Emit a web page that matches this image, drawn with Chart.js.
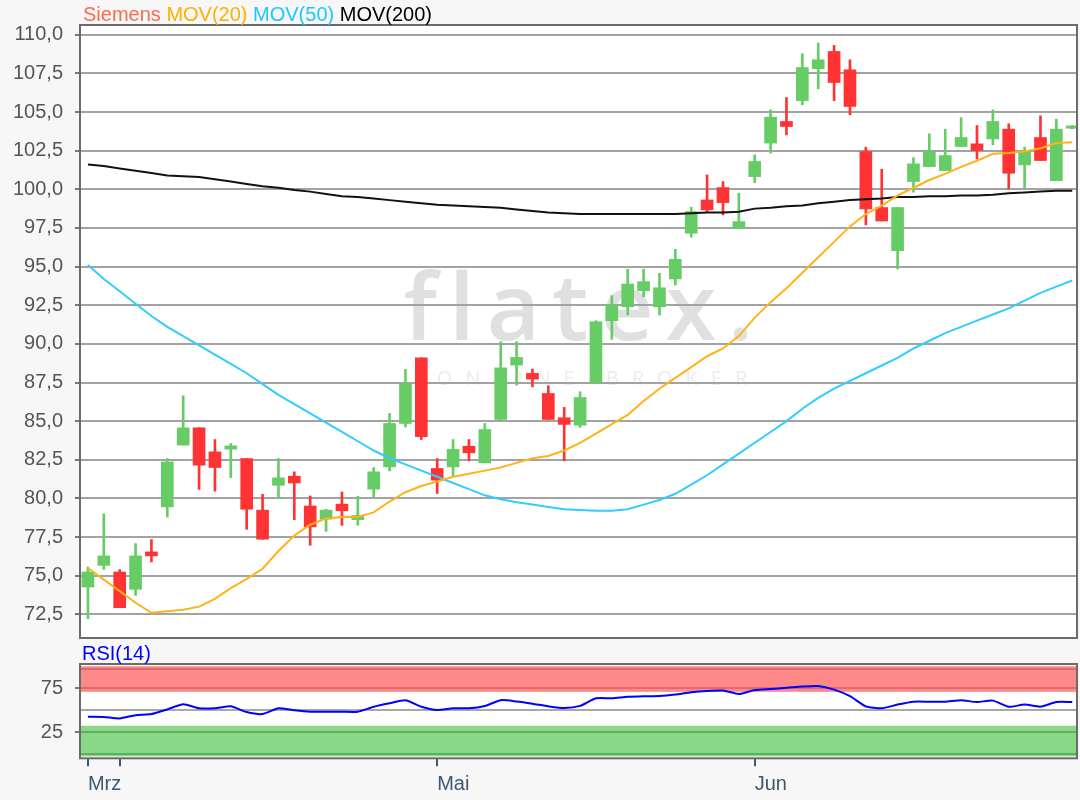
<!DOCTYPE html>
<html>
<head>
<meta charset="utf-8">
<script src="https://cdn.jsdelivr.net/npm/chart.js"></script>
<style>
  html, body { margin: 0; padding: 0; background: #f7f7f7; }
  #wrap { position: relative; width: 1080px; height: 800px; overflow: hidden; font-family: "Liberation Sans", Arial, sans-serif; }
  canvas { position: absolute; left: 0; }
  #main { top: 0; }
  #rsi { top: 640px; }
  .head { position: absolute; left: 83px; top: 4px; font-size: 20px; line-height: 20px; white-space: nowrap; }
  .rsiLabel { position: absolute; left: 82px; top: 643px; font-size: 20px; line-height: 20px; color: #0000ff; }
</style>
</head>
<body>
<div id="wrap">
  <canvas id="main" width="1080" height="640"></canvas>
  <canvas id="rsi" width="1080" height="160"></canvas>
  <div class="head"><span style="color:#ff6a4d">Siemens</span> <span style="color:#ffb000">MOV(20)</span> <span style="color:#1ec8ff">MOV(50)</span> <span style="color:#000">MOV(200)</span></div>
  <div class="rsiLabel">RSI(14)</div>
</div>
<script>
// Kursdaten (Tageskerzen)
const opens  = [74.27, 75.67, 75.24, 74.12, 76.54, 79.45, 83.45, 84.57, 83.01, 83.19,
                82.58, 79.24, 80.85, 81.44, 79.51, 78.66, 79.63, 78.63, 80.6, 82.04,
                84.85, 89.1, 81.94, 82.04, 83.38, 82.3, 85.11, 88.63, 88.09, 86.79,
                85.22, 84.74, 87.48, 91.5, 92.4, 93.44, 92.4, 94.2, 97.16, 99.31,
                100.11, 97.48, 100.82, 102.99, 104.39, 105.74, 107.8, 108.92, 107.73, 102.44,
                98.82, 96.03, 100.5, 101.47, 101.21, 102.77, 102.94, 103.26, 103.89, 101.58,
                103.35, 100.56, 103.95];
const highs  = [75.56, 79.0, 75.39, 77.08, 77.34, 82.58, 86.64, 84.57, 83.81, 83.55,
                82.58, 80.27, 82.58, 81.72, 80.16, 79.3, 80.42, 80.14, 82.0, 85.5,
                88.35, 89.1, 82.58, 83.81, 83.81, 84.85, 90.14, 90.14, 88.37, 87.29,
                85.89, 86.9, 91.5, 93.12, 94.83, 94.83, 94.57, 96.12, 98.84, 100.93,
                100.5, 99.75, 102.23, 105.14, 105.94, 108.77, 109.46, 109.31, 108.38, 102.73,
                101.3, 98.82, 102.05, 103.59, 103.89, 104.64, 104.13, 105.14, 104.24, 102.73,
                104.75, 104.54, 104.13];
const lows   = [72.22, 75.41, 72.93, 73.73, 75.89, 78.8, 83.45, 80.58, 80.47, 81.35,
                78.0, 77.36, 80.0, 78.63, 76.97, 77.87, 78.26, 78.26, 80.1, 81.78,
                84.63, 83.81, 80.32, 81.4, 82.43, 82.3, 85.11, 87.33, 87.22, 85.11,
                82.43, 84.6, 87.48, 90.29, 91.87, 93.05, 91.87, 93.81, 96.9, 98.56,
                98.34, 97.48, 100.43, 102.34, 103.52, 105.47, 106.5, 105.73, 104.82, 97.7,
                97.95, 94.84, 99.81, 101.47, 101.21, 102.77, 101.97, 102.88, 100.03, 100.07,
                101.86, 100.56, 103.91];
const closes = [75.24, 76.28, 72.93, 76.28, 76.28, 82.36, 84.57, 82.15, 82.0, 83.4,
                79.3, 77.36, 81.33, 81.0, 78.16, 79.24, 79.2, 78.9, 81.72, 84.85,
                87.44, 84.0, 81.18, 83.17, 82.95, 84.46, 88.45, 89.12, 87.72, 85.11,
                84.79, 86.53, 91.43, 92.51, 93.87, 94.02, 93.63, 95.47, 98.56, 98.67,
                99.14, 97.91, 101.8, 104.67, 104.06, 107.88, 108.38, 106.91, 105.36, 98.73,
                97.95, 98.82, 101.65, 102.44, 102.18, 103.35, 102.51, 104.39, 101.04, 102.51,
                101.86, 103.89, 104.1];

// gleitende Durchschnitte
const mov20  = [75.5, 74.75, 74.0, 73.25, 72.6, 72.7, 72.8, 73.0, 73.5, 74.2,
                74.8, 75.45, 76.6, 77.6, 78.3, 78.7, 78.8, 78.8, 79.1, 79.8,
                80.4, 80.8, 81.1, 81.4, 81.6, 81.8, 82.0, 82.3, 82.6, 82.75,
                83.1, 83.6, 84.2, 84.8, 85.4, 86.3, 87.1, 87.8, 88.5, 89.2,
                89.7, 90.5, 91.7, 92.7, 93.6, 94.6, 95.6, 96.6, 97.6, 98.4,
                98.95, 99.6, 100.1, 100.6, 101.0, 101.45, 101.85, 102.3, 102.35, 102.45,
                102.65, 103.0, 103.05];
const mov50  = [95.1, 94.2, 93.4, 92.6, 91.8, 91.1, 90.5, 89.9, 89.3, 88.7,
                88.1, 87.4, 86.7, 86.1, 85.5, 84.9, 84.3, 83.7, 83.1, 82.6,
                82.2, 81.8, 81.4, 81.0, 80.6, 80.2, 79.95, 79.75, 79.6, 79.45,
                79.3, 79.25, 79.2, 79.2, 79.3, 79.6, 79.9, 80.3, 80.9, 81.5,
                82.2, 82.9, 83.6, 84.3, 85.0, 85.8, 86.5, 87.1, 87.6, 88.1,
                88.6, 89.1, 89.7, 90.2, 90.7, 91.1, 91.5, 91.9, 92.3, 92.8,
                93.3, 93.7, 94.1];
const mov200 = [101.6, 101.5, 101.35, 101.2, 101.05, 100.9, 100.85, 100.8, 100.65, 100.5,
                100.35, 100.2, 100.1, 99.95, 99.85, 99.7, 99.55, 99.5, 99.4, 99.3,
                99.2, 99.1, 99.0, 98.95, 98.9, 98.85, 98.8, 98.7, 98.6, 98.5,
                98.45, 98.4, 98.4, 98.4, 98.4, 98.4, 98.4, 98.4, 98.45, 98.5,
                98.5, 98.55, 98.75, 98.8, 98.9, 98.95, 99.1, 99.2, 99.3, 99.35,
                99.4, 99.5, 99.5, 99.55, 99.55, 99.6, 99.6, 99.65, 99.75, 99.8,
                99.85, 99.9, 99.9];

// RSI(14)
const rsi14  = [42.7, 42.5, 40.8, 44.5, 45.7, 51, 57, 52.3, 52.3, 54.5,
                48, 45.8, 52.3, 50, 48.4, 48.4, 48.4, 48.4, 54, 58,
                61.4, 54, 50.3, 52.3, 52.3, 55, 61.5, 60, 57.5, 54.5,
                52.5, 55, 63.6, 63.6, 65.3, 66, 66.3, 68, 70.5, 72,
                72.5, 68.5, 73, 74.3, 75.5, 77, 77.6, 73.5, 66, 54.5,
                52.3, 56.5, 59.8, 59.8, 59.8, 61.5, 59.4, 61, 54, 56.5,
                54.2, 59.4, 59.4];

// Achsen
const monthTicks  = [0, 2, 22, 42];
const monthLabels = ['Mrz', '', 'Mai', 'Jun'];
const priceTicks  = [72.5, 75, 77.5, 80, 82.5, 85, 87.5, 90, 92.5, 95, 97.5, 100, 102.5, 105, 107.5, 110];
const rsiTicks    = [25, 75];

const idx = closes.map((_, i) => i);
const candleColors = closes.map((c, i) => c >= opens[i] ? '#66cc66' : '#ff3333');

Chart.defaults.font.family = '"Liberation Sans", Arial, sans-serif';
Chart.defaults.animation = false;

// weisser Plotbereich, Wasserzeichen und Rahmen
const plotFrame = {
  id: 'plotFrame',
  beforeDraw(chart, args, opts) {
    const { ctx, chartArea: a } = chart;
    ctx.save();
    ctx.fillStyle = '#ffffff';
    ctx.fillRect(a.left, a.top, a.right - a.left, a.bottom - a.top);
    if (opts.watermark) {
      const cx = (a.left + a.right) / 2;
      ctx.textAlign = 'center';
      ctx.textBaseline = 'alphabetic';
      ctx.fillStyle = '#e0e0e0';
      ctx.font = '600 92px "Open Sans"';
      ctx.letterSpacing = '12px';
      ctx.fillText('flatex.', cx + 6, 340);
      ctx.fillStyle = '#ececec';
      ctx.font = '20px "Open Sans"';
      ctx.letterSpacing = '13px';
      ctx.fillText('ONLINE BROKER', cx + 20, 385);
    }
    ctx.restore();
  },
  afterDraw(chart) {
    const { ctx, chartArea: a } = chart;
    ctx.save();
    ctx.strokeStyle = '#6b6b6b';
    ctx.lineWidth = 2;
    ctx.strokeRect(a.left, a.top, a.right - a.left, a.bottom - a.top);
    ctx.restore();
  }
};

// RSI-Zonen
const rsiZones = {
  id: 'rsiZones',
  beforeDatasetsDraw(chart) {
    const { ctx, chartArea: a, scales: { y } } = chart;
    const band = (from, to, color) => {
      const y1 = y.getPixelForValue(to), y2 = y.getPixelForValue(from);
      ctx.fillStyle = color;
      ctx.fillRect(a.left, y1, a.right - a.left, y2 - y1);
    };
    const hline = (v, color) => {
      const py = Math.round(y.getPixelForValue(v));
      ctx.strokeStyle = color;
      ctx.lineWidth = 2;
      ctx.beginPath();
      ctx.moveTo(a.left, py);
      ctx.lineTo(a.right, py);
      ctx.stroke();
    };
    ctx.save();
    band(71, 100.1, '#ff8888');
    hline(96.6, '#d86e6e');
    hline(75, '#d86e6e');
    band(-2.3, 32.5, '#88d888');
    hline(25, '#62ad62');
    hline(0, '#62ad62');
    hline(50, '#a8a8a8');
    ctx.restore();
  }
};

const xCommon = { type: 'linear', min: -0.5, max: 62.3, offset: false };
const fixWidth = s => { s.width = 80; s.paddingTop = 0; s.paddingBottom = 0; };

new Chart(document.getElementById('main'), {
  type: 'bar',
  data: {
    datasets: [
      { type: 'line', label: 'MOV(20)', data: idx.map(i => ({ x: i, y: mov20[i] })),
        borderColor: '#ffb31a', borderWidth: 2, pointRadius: 0, tension: 0, order: 0 },
      { type: 'line', label: 'MOV(50)', data: idx.map(i => ({ x: i, y: mov50[i] })),
        borderColor: '#33ccff', borderWidth: 2, pointRadius: 0, tension: 0, order: 0 },
      { type: 'line', label: 'MOV(200)', data: idx.map(i => ({ x: i, y: mov200[i] })),
        borderColor: '#111111', borderWidth: 2, pointRadius: 0, tension: 0, order: 0 },
      { label: 'Siemens', data: idx.map(i => ({ x: i, y: [opens[i], closes[i]] })),
        backgroundColor: candleColors, barThickness: 12, grouped: false, borderWidth: 0, order: 1 },
      { label: 'Docht', data: idx.map(i => ({ x: i, y: [lows[i], highs[i]] })),
        backgroundColor: candleColors, barThickness: 2, grouped: false, borderWidth: 0, order: 2 }
    ]
  },
  options: {
    responsive: false,
    animation: false,
    layout: { padding: { top: 25, right: 3, bottom: 2, left: 0 } },
    plugins: { legend: { display: false }, tooltip: { enabled: false }, plotFrame: { watermark: true } },
    scales: {
      x: { ...xCommon, display: false, grid: { offset: false } },
      y: {
        min: 70.97, max: 110.63,
        afterBuildTicks: s => { s.ticks = priceTicks.map(v => ({ value: v })); },
        afterFit: fixWidth,
        border: { display: false },
        grid: { color: '#a3a3a3', lineWidth: 2, tickLength: 5, tickColor: '#777777' },
        ticks: { padding: 12, color: '#555555', font: { size: 20 },
                 callback: v => v.toFixed(1).replace('.', ',') }
      }
    }
  },
  plugins: [plotFrame]
});

new Chart(document.getElementById('rsi'), {
  type: 'line',
  data: {
    datasets: [{ label: 'RSI(14)', data: idx.map(i => ({ x: i, y: rsi14[i] })),
                 borderColor: '#0000ff', borderWidth: 2, pointRadius: 0, tension: 0.2 }]
  },
  options: {
    responsive: false,
    animation: false,
    layout: { padding: { top: 24, right: 3, bottom: 0, left: 0 } },
    plugins: { legend: { display: false }, tooltip: { enabled: false }, plotFrame: { watermark: false } },
    scales: {
      x: {
        ...xCommon,
        afterBuildTicks: s => { s.ticks = monthTicks.map(v => ({ value: v })); },
        afterFit: s => { s.height = 41.7; },
        border: { display: false },
        grid: { drawOnChartArea: false, tickLength: 8, tickColor: '#3d5873', lineWidth: 2 },
        ticks: { align: 'start', padding: 6, color: '#3d5873', font: { size: 20 },
                 maxRotation: 0, autoSkip: false, callback: (v, k) => monthLabels[k] }
      },
      y: {
        min: -4.5, max: 102.6,
        afterBuildTicks: s => { s.ticks = rsiTicks.map(v => ({ value: v })); },
        afterFit: fixWidth,
        border: { display: false },
        grid: { drawOnChartArea: false, tickLength: 5, tickColor: '#777777', lineWidth: 2 },
        ticks: { padding: 12, color: '#555555', font: { size: 20 } }
      }
    }
  },
  plugins: [plotFrame, rsiZones]
});
</script>
</body>
</html>
